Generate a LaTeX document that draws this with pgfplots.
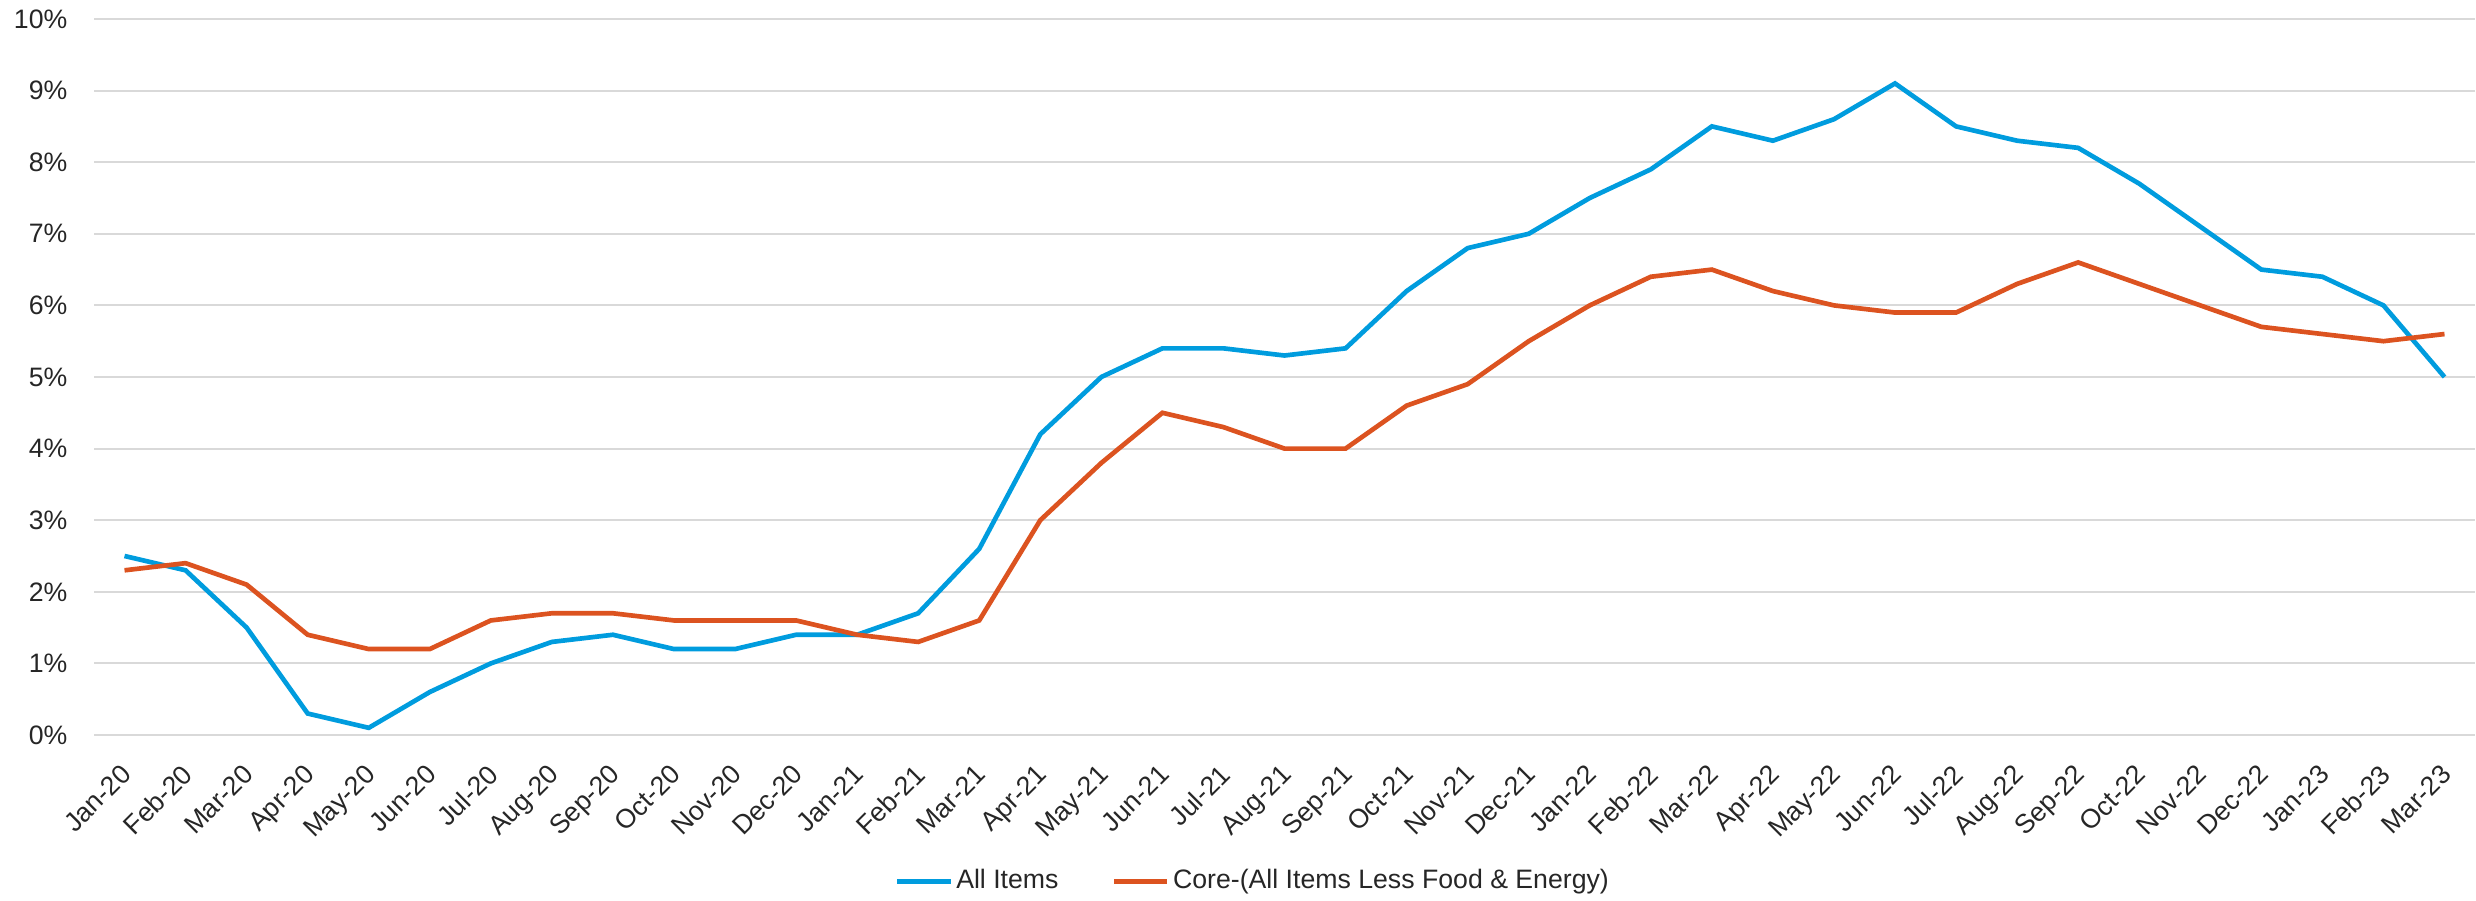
\documentclass[border=0pt]{standalone}
\usepackage{pgfplots}
\pgfplotsset{compat=1.18}
\usepackage{fontspec}
\setmainfont{Liberation Sans}
\definecolor{allblue}{RGB}{0,156,222}
\definecolor{coreorange}{RGB}{220,83,32}
\definecolor{gridgray}{RGB}{217,217,217}
\definecolor{txt}{RGB}{38,38,38}
\begin{document}
\begin{tikzpicture}[font=\fontsize{8pt}{9.6pt}\selectfont]
\useasboundingbox (0,0) rectangle (742.8pt,270pt);
\begin{axis}[
  at={(28.2pt,49.5pt)}, anchor=south west,
  scale only axis, width=714.3pt, height=214.8pt,
  xmin=-0.5, xmax=38.5, ymin=0, ymax=10,
  axis line style={draw=none},
  ymajorgrids, grid style={gridgray, line width=0.6pt},
  ytick={0,1,...,10},
  yticklabels={0\%,1\%,2\%,3\%,4\%,5\%,6\%,7\%,8\%,9\%,10\%},
  xtick={0,...,38},
  xticklabels={Jan-20,Feb-20,Mar-20,Apr-20,May-20,Jun-20,Jul-20,Aug-20,Sep-20,Oct-20,Nov-20,Dec-20,Jan-21,Feb-21,Mar-21,Apr-21,May-21,Jun-21,Jul-21,Aug-21,Sep-21,Oct-21,Nov-21,Dec-21,Jan-22,Feb-22,Mar-22,Apr-22,May-22,Jun-22,Jul-22,Aug-22,Sep-22,Oct-22,Nov-22,Dec-22,Jan-23,Feb-23,Mar-23},
  major tick length=0pt,
  tick style={draw=none},
  xtick pos=bottom, ytick pos=left,
  yticklabel style={anchor=east, inner sep=0pt, xshift=-7.8pt, text=txt},
  xticklabel style={xshift=-1.5pt, yshift=-8.1pt, rotate=45, anchor=north east, inner sep=0pt, text=txt},
  /pgf/number format/assume math mode=true,
  legend style={at={(0.487,-0.205)}, anchor=center, draw=none, fill=none,
    legend columns=2, text=txt,
    nodes={inner sep=1pt},
    /tikz/every even column/.append style={column sep=15pt}},
  legend image code/.code={\draw[#1] (0pt,0pt) -- (16pt,0pt);},
]
\addplot[allblue, line width=1.4pt] coordinates {
(0,2.5)(1,2.3)(2,1.5)(3,0.3)(4,0.1)(5,0.6)(6,1.0)(7,1.3)(8,1.4)(9,1.2)(10,1.2)(11,1.4)
(12,1.4)(13,1.7)(14,2.6)(15,4.2)(16,5.0)(17,5.4)(18,5.4)(19,5.3)(20,5.4)(21,6.2)(22,6.8)(23,7.0)
(24,7.5)(25,7.9)(26,8.5)(27,8.3)(28,8.6)(29,9.1)(30,8.5)(31,8.3)(32,8.2)(33,7.7)(34,7.1)(35,6.5)
(36,6.4)(37,6.0)(38,5.0)};
\addlegendentry{All Items}
\addplot[coreorange, line width=1.4pt] coordinates {
(0,2.3)(1,2.4)(2,2.1)(3,1.4)(4,1.2)(5,1.2)(6,1.6)(7,1.7)(8,1.7)(9,1.6)(10,1.6)(11,1.6)
(12,1.4)(13,1.3)(14,1.6)(15,3.0)(16,3.8)(17,4.5)(18,4.3)(19,4.0)(20,4.0)(21,4.6)(22,4.9)(23,5.5)
(24,6.0)(25,6.4)(26,6.5)(27,6.2)(28,6.0)(29,5.9)(30,5.9)(31,6.3)(32,6.6)(33,6.3)(34,6.0)(35,5.7)
(36,5.6)(37,5.5)(38,5.6)};
\addlegendentry{Core-(All Items Less Food \& Energy)}
\end{axis}
\end{tikzpicture}
\end{document}
